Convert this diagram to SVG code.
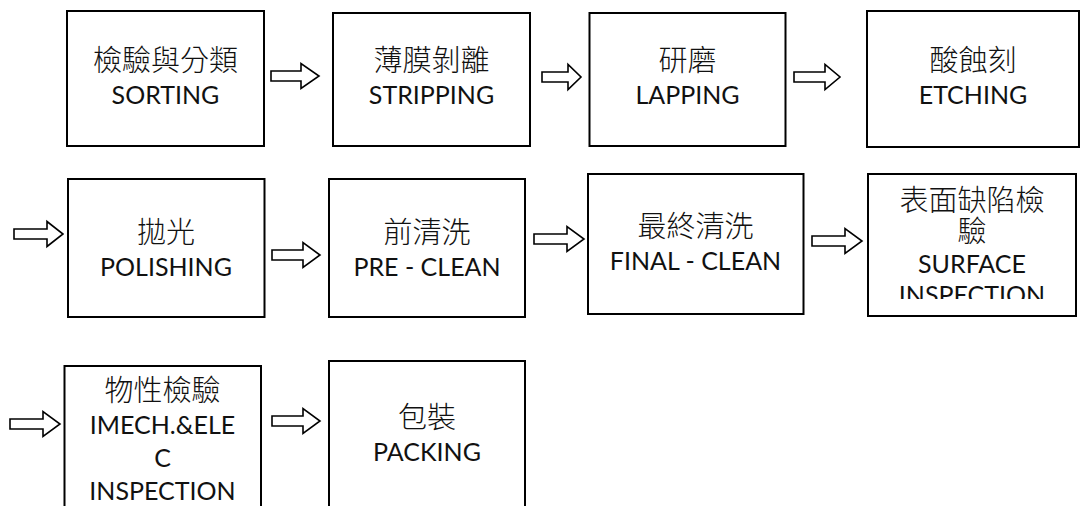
<svg xmlns="http://www.w3.org/2000/svg" width="1083" height="506" viewBox="0 0 1083 506">
<style>
.box{fill:#fff;stroke:#000;stroke-width:2}
.arr{fill:#fff;stroke:#000;stroke-width:1.6;stroke-linejoin:miter}
.cjk{font-family:"Noto Sans CJK TC","Noto Sans CJK SC",sans-serif;font-size:29px;font-weight:300;text-anchor:middle;fill:#111}
.lat{font-family:Lato,"Noto Sans",sans-serif;font-size:25px;text-anchor:middle;fill:#111}
</style>
<defs>
<clipPath id="clip8"><rect x="860" y="170" width="220" height="129"/></clipPath>
</defs>
<rect width="1083" height="506" fill="#fff"/>
<g id="connectors">
<path class="arr" d="M271,71 H301 V63.5 L319,76 L301,88.5 V81 H271 Z"/>
<path class="arr" d="M542,72 H568 V64.5 L581,77 L568,89.5 V82 H542 Z"/>
<path class="arr" d="M794,72 H825 V64.5 L840,77 L825,89.5 V82 H794 Z"/>
<path class="arr" d="M14,229 H47 V221.5 L63,234 L47,246.5 V239 H14 Z"/>
<path class="arr" d="M272,250 H303 V242.5 L320,255 L303,267.5 V260 H272 Z"/>
<path class="arr" d="M534,234 H567 V226.5 L584,239 L567,251.5 V244 H534 Z"/>
<path class="arr" d="M812,236 H845 V228.5 L862,241 L845,253.5 V246 H812 Z"/>
<path class="arr" d="M10,419 H43 V411.5 L60,424 L43,436.5 V429 H10 Z"/>
<path class="arr" d="M272,416 H303 V408.5 L320,421 L303,433.5 V426 H272 Z"/>
</g>
<g id="n1"><rect class="box" x="67" y="11" width="197" height="135"/>
<text class="cjk" x="165.5" y="71">檢驗與分類</text><text class="lat" x="165.5" y="104">SORTING</text></g>
<g id="n2"><rect class="box" x="333" y="13" width="197" height="133"/>
<text class="cjk" x="431.5" y="71">薄膜剝離</text><text class="lat" x="431.5" y="104">STRIPPING</text></g>
<g id="n3"><rect class="box" x="589.5" y="13" width="196" height="133"/>
<text class="cjk" x="687.5" y="71">研磨</text><text class="lat" x="687.5" y="104">LAPPING</text></g>
<g id="n4"><rect class="box" x="867" y="11" width="212" height="136"/>
<text class="cjk" x="973" y="71">酸蝕刻</text><text class="lat" x="973" y="104">ETCHING</text></g>
<g id="n5"><rect class="box" x="68" y="179" width="196.5" height="138"/>
<text class="cjk" x="166" y="243">拋光</text><text class="lat" x="166" y="276">POLISHING</text></g>
<g id="n6"><rect class="box" x="329" y="179" width="196" height="138"/>
<text class="cjk" x="427" y="243">前清洗</text><text class="lat" x="427" y="276">PRE - CLEAN</text></g>
<g id="n7"><rect class="box" x="588" y="174" width="215.5" height="140"/>
<text class="cjk" x="695.5" y="237">最終清洗</text><text class="lat" x="695.5" y="270">FINAL - CLEAN</text></g>
<g id="n8"><rect class="box" x="868" y="174" width="208" height="142"/>
<g clip-path="url(#clip8)">
<text class="cjk" x="972" y="211">表面缺陷檢</text><text class="cjk" x="972" y="242">驗</text>
<text class="lat" x="972" y="273">SURFACE</text><text class="lat" x="972" y="304">INSPECTION</text></g></g>
<g id="n9"><rect class="box" x="64.5" y="366" width="196.5" height="160"/>
<text class="cjk" x="162.5" y="401">物性檢驗</text><text class="lat" x="162.5" y="434">IMECH.&amp;ELE</text>
<text class="lat" x="162.5" y="467">C</text><text class="lat" x="162.5" y="500">INSPECTION</text></g>
<g id="n10"><rect class="box" x="329" y="361" width="196" height="165"/>
<text class="cjk" x="427" y="428">包裝</text><text class="lat" x="427" y="461">PACKING</text></g>
</svg>
